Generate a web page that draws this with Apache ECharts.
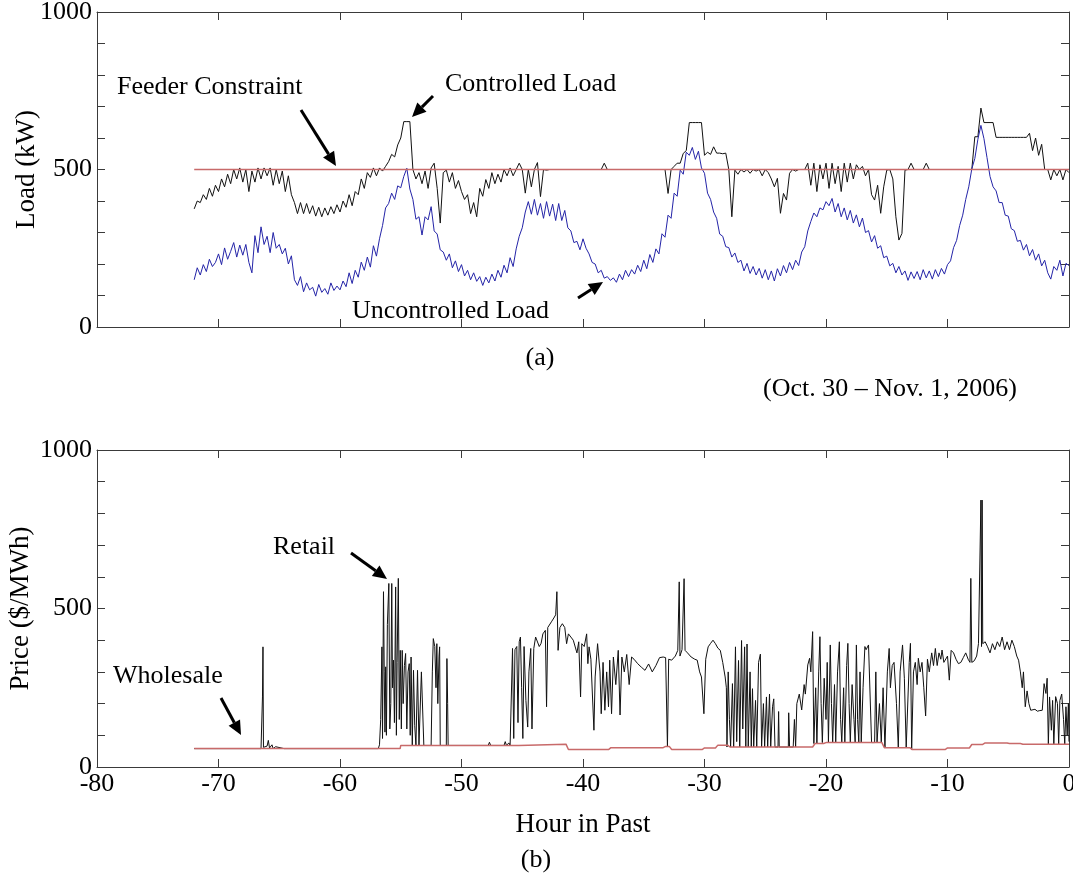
<!DOCTYPE html>
<html><head><meta charset="utf-8">
<script src="https://cdn.jsdelivr.net/npm/echarts@6/dist/echarts.min.js"></script>
<style>html,body{margin:0;padding:0;background:#fff}#c{width:1073px;height:878px}</style>
</head><body><div id="c"></div>
<script>
// ---------- DATA ----------
const xTickValues = [-80,-70,-60,-50,-40,-30,-20,-10,0];
const yTickLabels = [0, 500, 1000];
const loadStartHour = -72;
const loadStepHours = 0.25;
// Uncontrolled load (kW), every 0.25 h from -72 to 0
const uncontrolledLoad = [
150,188,165,198, 176,215,192,205, 232,198,251,215, 240,268,222,260,
228,262,205,172, 290,236,318,262, 288,236,300,250, 262,232,250,200,
226,150,132,160, 112,140,118,126, 98,135,110,122, 104,140,116,130,
118,146,128,172, 138,180,158,206, 180,222,190,258, 225,280,322,378,
392,425,405,448, 442,478,504,438, 405,342,350,292, 350,340,382,305,
295,245,238,212, 232,188,210,176, 198,162,180,150, 172,145,160,132,
158,140,168,146, 180,158,196,172, 220,192,248,288, 315,365,398,358,
405,355,392,345, 398,352,390,338, 392,338,370,315, 305,268,272,245,
280,250,232,205, 200,172,180,155, 160,148,156,142, 168,150,180,160,
182,168,196,176, 212,185,230,205, 248,232,296,285, 355,345,425,415,
498,485,555,545, 570,532,558,505, 488,425,405,365, 345,295,288,255,
252,222,235,205, 212,178,202,170, 192,165,186,155, 182,150,178,146,
185,162,195,172, 205,182,212,195, 238,255,305,335, 362,350,378,372,
398,385,408,365, 392,350,378,340, 370,330,356,318, 346,300,306,270,
290,250,258,220, 225,194,202,172, 192,165,178,148, 175,154,176,150,
182,156,178,152, 182,160,186,168, 198,210,252,275, 322,355,405,445,
502,535,596,640, 598,538,478,445, 432,395,395,355, 352,312,306,272,
275,244,262,226, 246,212,232,194, 212,172,152,192, 180,212,162,202,
195
];
// Controlled load (kW), same hours
const controlledLoad = [
375,400,395,420, 405,440,415,450, 430,470,445,485, 455,500,470,505,
460,500,430,495, 460,505,470,505, 480,505,450,500, 455,495,430,480,
420,395,360,395, 360,392,360,385, 352,380,350,378, 355,382,360,388,
365,400,380,420, 385,430,420,470, 440,490,475,505, 480,505,495,510,
525,548,540,578, 600,652,652,652, 500,470,490,455, 495,440,505,520,
440,330,490,498, 460,490,440,465, 430,405,420,360, 395,350,440,415,
468,440,490,455, 485,460,500,480, 505,480,500,520, 500,425,500,445,
500,522,414,500, 498,500,500,500, 500,500,500,500, 500,500,500,500,
500,500,500,500, 500,500,500,520, 500,500,500,500, 500,500,500,500,
500,500,500,500, 500,500,500,500, 500,500,500,500, 424,500,510,520,
520,551,560,649, 649,649,649,649, 545,555,548,572, 552,552,550,552,
500,350,498,485, 500,492,500,488, 500,495,500,480, 500,490,470,445,
472,361,424,403, 488,500,495,500, 500,500,520,450, 520,430,515,470,
520,440,520,455, 510,430,520,460, 520,470,515,500, 510,480,500,420,
403,450,361,445, 498,500,470,350, 276,297,498,500, 520,500,500,500,
500,520,500,500, 500,500,500,500, 500,500,500,500, 500,500,500,500,
500,604,604,695, 649,649,649,649, 602,602,602,602, 602,602,602,602,
602,602,602,615, 560,600,545,580, 500,500,467,500, 480,500,467,500,
490
];
const feederConstraint = [[-72, 500], [0, 500]];
// Retail price ($/MWh): [hour, price]
const retailPoints = [
[-72,58],[-68.45,58],[-68.4,64],[-68.35,58],[-66.5,58],[-66.42,60],[-66.38,221],[-66.34,379],[-66.3,62],
[-66.2,58],[-66.0,66],[-65.9,84],[-65.8,60],[-65.6,70],[-65.5,58],[-65.3,64],[-65.2,58],[-64.6,58],
[-64.5,62],[-64.4,58],[-57.3,58],[-57.2,62],[-57.1,58],[-56.95,64],[-56.85,58],[-56.75,70],[-56.65,150],
[-56.55,379],[-56.5,90],[-56.42,553],[-56.36,300],[-56.3,110],[-56.24,316],[-56.18,100],[-56.1,450],
[-55.98,579],[-55.9,120],[-55.82,200],[-55.74,579],[-55.68,250],[-55.6,337],[-55.52,140],[-55.42,568],
[-55.36,100],[-55.3,330],[-55.2,595],[-55.12,150],[-55.04,368],[-54.95,120],[-54.88,368],[-54.8,200],
[-54.7,320],[-54.6,358],[-54.5,120],[-54.4,300],[-54.3,326],[-54.22,100],[-54.15,347],[-54.05,68],
[-53.95,305],[-53.85,130],[-53.75,68],[-53.62,305],[-53.5,68],[-53.3,300],[-53.17,305],[-53.1,68],
[-52.5,68],[-52.4,300],[-52.32,405],[-52.2,380],[-52.1,250],[-52.03,389],[-51.95,200],[-51.85,350],
[-51.8,379],[-51.75,68],[-51.25,68],[-51.2,342],[-51.14,200],[-51.1,68],[-47.8,68],[-47.7,78],[-47.6,68],
[-46.5,68],[-46.4,80],[-46.3,68],[-46.1,76],[-46.0,68],[-45.85,70],[-45.8,374],[-45.7,90],[-45.6,370],
[-45.45,380],[-45.35,140],[-45.25,395],[-45.15,410],[-45.05,250],[-44.95,90],[-44.85,380],[-44.7,210],
[-44.55,126],[-44.45,300],[-44.3,374],[-44.2,120],[-44.05,374],[-43.9,410],[-43.75,410],[-43.6,380],
[-43.45,390],[-43.3,420],[-43.1,431],[-43.0,190],[-42.9,440],[-42.6,458],[-42.4,470],[-42.25,480],
[-42.15,553],[-42.05,368],[-41.9,440],[-41.7,452],[-41.5,440],[-41.35,389],[-41.2,420],[-41.0,410],
[-40.8,400],[-40.5,360],[-40.35,395],[-40.2,221],[-40.1,389],[-39.9,380],[-39.7,420],[-39.6,326],
[-39.5,379],[-39.35,340],[-39.1,116],[-39.0,284],[-38.8,389],[-38.6,300],[-38.5,168],[-38.35,330],
[-38.2,179],[-38.05,300],[-37.9,190],[-37.8,337],[-37.65,168],[-37.5,347],[-37.3,260],[-37.1,368],
[-36.95,164],[-36.8,347],[-36.6,300],[-36.4,355],[-36.2,260],[-36.0,347],[-35.8,340],[-35.5,326],
[-35.2,315],[-34.9,305],[-34.6,325],[-34.3,300],[-34.0,320],[-33.7,345],[-33.4,347],[-33.2,345],
[-33.1,340],[-33.05,63],[-32.95,340],[-32.7,337],[-32.4,350],[-32.2,368],[-32.08,584],[-32.02,350],
[-31.85,370],[-31.68,594],[-31.6,368],[-31.4,360],[-31.1,347],[-30.8,340],[-30.6,337],[-30.4,300],
[-30.25,284],[-30.05,168],[-29.9,340],[-29.7,379],[-29.5,390],[-29.3,400],[-29.1,389],[-28.9,375],
[-28.7,368],[-28.5,330],[-28.3,284],[-28.2,250],[-28.15,63],[-28.05,300],[-27.95,150],[-27.85,63],
[-27.7,263],[-27.6,63],[-27.45,379],[-27.35,80],[-27.2,336],[-27.1,63],[-26.95,399],[-26.85,120],
[-26.7,379],[-26.6,63],[-26.5,388],[-26.4,63],[-26.25,300],[-26.15,63],[-26.05,247],[-25.95,63],
[-25.8,210],[-25.7,63],[-25.55,330],[-25.4,356],[-25.3,63],[-25.15,200],[-25.05,63],[-24.9,221],
[-24.8,63],[-24.65,230],[-24.55,63],[-24.4,190],[-24.3,215],[-24.2,63],[-23.95,63],[-23.9,175],
[-23.85,63],[-23.1,63],[-23.07,171],[-23.0,63],[-22.7,63],[-22.6,150],[-22.5,63],[-22.4,200],
[-22.2,230],[-22.0,180],[-21.8,260],[-21.7,230],[-21.5,322],[-21.35,343],[-21.25,300],[-21.1,427],
[-21.0,74],[-20.85,250],[-20.75,74],[-20.6,300],[-20.5,411],[-20.4,200],[-20.3,77],[-20.15,280],
[-20.0,150],[-19.9,330],[-19.8,77],[-19.65,385],[-19.55,200],[-19.45,77],[-19.3,260],[-19.2,77],
[-19.05,300],[-18.9,395],[-18.8,150],[-18.7,77],[-18.55,250],[-18.45,77],[-18.3,320],[-18.2,390],
[-18.1,200],[-18.0,77],[-17.85,260],[-17.7,150],[-17.6,77],[-17.5,385],[-17.4,150],[-17.3,77],
[-17.2,300],[-17.1,77],[-16.95,250],[-16.8,380],[-16.7,370],[-16.5,385],[-16.35,390],[-16.25,77],
[-16.0,77],[-15.9,300],[-15.8,77],[-15.6,200],[-15.45,77],[-15.3,250],[-15.15,61],[-14.95,300],
[-14.8,374],[-14.7,250],[-14.55,320],[-14.4,330],[-14.2,200],[-14.05,61],[-13.9,300],[-13.7,385],
[-13.55,280],[-13.4,61],[-13.25,61],[-13.15,330],[-13.05,390],[-12.95,55],[-12.8,300],[-12.65,330],
[-12.5,260],[-12.4,343],[-12.25,300],[-12.1,330],[-11.95,250],[-11.8,161],[-11.65,340],[-11.5,300],
[-11.3,360],[-11.15,320],[-11.0,374],[-10.85,320],[-10.7,360],[-10.55,340],[-10.45,369],[-10.3,330],
[-10.0,350],[-9.85,274],[-9.7,368],[-9.5,360],[-9.3,340],[-9.1,326],[-8.9,330],[-8.7,345],[-8.5,360],
[-8.3,340],[-8.15,330],[-8.08,595],[-8.0,330],[-7.8,335],[-7.6,350],[-7.45,389],[-7.3,389],[-7.25,842],
[-7.2,380],[-7.15,842],[-7.1,389],[-6.9,395],[-6.7,379],[-6.5,360],[-6.3,389],[-6.1,370],[-5.9,395],
[-5.7,380],[-5.5,410],[-5.3,370],[-5.1,395],[-4.9,370],[-4.7,400],[-4.5,380],[-4.3,350],[-4.15,337],
[-4.0,300],[-3.85,250],[-3.75,300],[-3.6,190],[-3.45,240],[-3.3,200],[-3.15,179],[-3.0,179],[-2.8,182],
[-2.6,176],[-2.4,178],[-2.2,179],[-2.05,263],[-1.9,232],[-1.8,280],[-1.7,72],[-1.6,221],[-1.45,116],
[-1.35,210],[-1.25,72],[-1.1,222],[-0.95,200],[-0.85,72],[-0.75,210],[-0.6,230],[-0.45,150],[-0.35,72],
[-0.25,190],[-0.15,100],[-0.05,200],[0,80]
];
// Wholesale price ($/MWh): [hour, price]
const wholesalePoints = [
[-72,58],[-55.05,58],[-55,68],[-45.3,68],[-45.2,72],[-41.4,72],[-41.2,55],[-37.9,55],[-37.7,61],[-33.4,61],
[-33.2,65],[-32.9,65],[-32.7,55],[-30.2,55],[-30.0,60],[-29.1,60],[-28.9,69],[-28.1,69],[-27.9,63],[-21.1,63],
[-20.9,74],[-20.2,74],[-20.0,77],[-15.4,77],[-15.2,61],[-13.1,61],[-12.9,55],[-10.2,55],[-10.0,60],[-8.2,60],
[-8.0,71],[-7.1,71],[-6.9,76],[-5.1,76],[-4.9,74],[-4.0,74],[-3.8,72],[0,72]
];

// ---------- CHART ----------
const FONT = '"Liberation Serif", "Times New Roman", serif';
const AX = '#3a3a3a';
const RED = '#c86a6a';
const loadHours = uncontrolledLoad.map((_, i) => loadStartHour + i * loadStepHours);
const uncontrolledData = uncontrolledLoad.map((v, i) => [loadHours[i], v]);
const controlledData = controlledLoad.map((v, i) => [loadHours[i], v]);

function xAx(grid, pos, labels, name) {
  return {
    gridIndex: grid, type: 'value', position: pos, min: -80, max: 0, interval: 10,
    axisLine: {show: true, onZero: false, lineStyle: {color: AX, width: 1}},
    axisTick: {show: true, inside: true, length: 8, lineStyle: {color: AX}},
    axisLabel: {show: labels, margin: 4, color: '#000', fontFamily: FONT, fontSize: 26,
      formatter: v => xTickValues.includes(v) ? String(v) : ''},
    splitLine: {show: false},
    name: name || '', nameLocation: 'middle', nameGap: 44, nameMoveOverlap: false,
    nameTextStyle: {color: '#000', fontFamily: FONT, fontSize: 27}
  };
}
function yAx(grid, pos, labels, name, gap) {
  return {
    gridIndex: grid, type: 'value', position: pos, min: 0, max: 1000, interval: 100,
    axisLine: {show: true, onZero: false, lineStyle: {color: AX, width: 1}},
    axisTick: {show: true, inside: true, length: 8, lineStyle: {color: AX}},
    axisLabel: {show: labels, margin: 5, color: '#000', fontFamily: FONT, fontSize: 26,
      formatter: v => yTickLabels.includes(v) ? String(v) : ''},
    splitLine: {show: false},
    name: name || '', nameLocation: 'middle', nameGap: gap || 0, nameRotate: 90, nameMoveOverlap: false,
    nameTextStyle: {color: '#000', fontFamily: FONT, fontSize: 27}
  };
}

function arrow(x1, y1, x2, y2) {
  const a = Math.atan2(y2 - y1, x2 - x1);
  const L = 14, W = 6.5;
  const bx = x2 - L * Math.cos(a), by = y2 - L * Math.sin(a);
  return [
    {type: 'line', shape: {x1: x1, y1: y1, x2: bx, y2: by}, style: {stroke: '#000', lineWidth: 3}},
    {type: 'polygon', shape: {points: [[x2, y2], [bx + W * Math.sin(a), by - W * Math.cos(a)], [bx - W * Math.sin(a), by + W * Math.cos(a)]]},
     style: {fill: '#000'}}
  ];
}
function label(text, x, y, align) {
  return {type: 'text', style: {text: text, x: x, y: y, font: '26px ' + FONT, fill: '#000',
    align: align || 'left', verticalAlign: 'middle', textAlign: align || 'left', textVerticalAlign: 'middle'}};
}

const chart = echarts.init(document.getElementById('c'), null, {renderer: 'canvas'});
chart.setOption({
  animation: false,
  backgroundColor: '#fff',
  grid: [
    {left: 97, right: 4, top: 12, height: 315, containLabel: false, outerBoundsMode: 'none'},
    {left: 97, right: 4, top: 450, height: 317, containLabel: false, outerBoundsMode: 'none'}
  ],
  xAxis: [xAx(0, 'bottom', false), xAx(0, 'top', false), xAx(1, 'bottom', true, 'Hour in Past'), xAx(1, 'top', false)],
  yAxis: [yAx(0, 'left', true, 'Load (kW)', 57), yAx(0, 'right', false), yAx(1, 'left', true, 'Price ($/MWh)', 63), yAx(1, 'right', false)],
  series: [
    {type: 'line', xAxisIndex: 0, yAxisIndex: 0, data: controlledData, showSymbol: false, lineStyle: {color: '#111', width: 1}, z: 3},
    {type: 'line', xAxisIndex: 0, yAxisIndex: 0, data: uncontrolledData, showSymbol: false, lineStyle: {color: '#2424a8', width: 1}, z: 4},
    {type: 'line', xAxisIndex: 0, yAxisIndex: 0, data: feederConstraint, showSymbol: false, lineStyle: {color: RED, width: 1.5}, z: 5},
    {type: 'line', xAxisIndex: 2, yAxisIndex: 2, data: retailPoints, showSymbol: false, lineStyle: {color: '#111', width: 1}, z: 3},
    {type: 'line', xAxisIndex: 2, yAxisIndex: 2, data: wholesalePoints, showSymbol: false, lineStyle: {color: RED, width: 1.5}, z: 5}
  ],
  graphic: [
    label('Feeder Constraint', 117, 87),
    label('Controlled Load', 445, 84),
    label('Uncontrolled Load', 352, 311),
    label('(a)', 540, 358, 'center'),
    label('(Oct. 30 \u2013 Nov. 1, 2006)', 763, 389),
    label('Retail', 273, 547),
    label('Wholesale', 113, 676),
    label('(b)', 536, 860, 'center'),
    ...arrow(301, 110, 336, 166),
    ...arrow(433, 96, 412, 117),
    ...arrow(578, 298, 603, 282),
    ...arrow(351, 553, 387, 579),
    ...arrow(221, 698, 241, 735)
  ]
});
</script>
</body></html>
